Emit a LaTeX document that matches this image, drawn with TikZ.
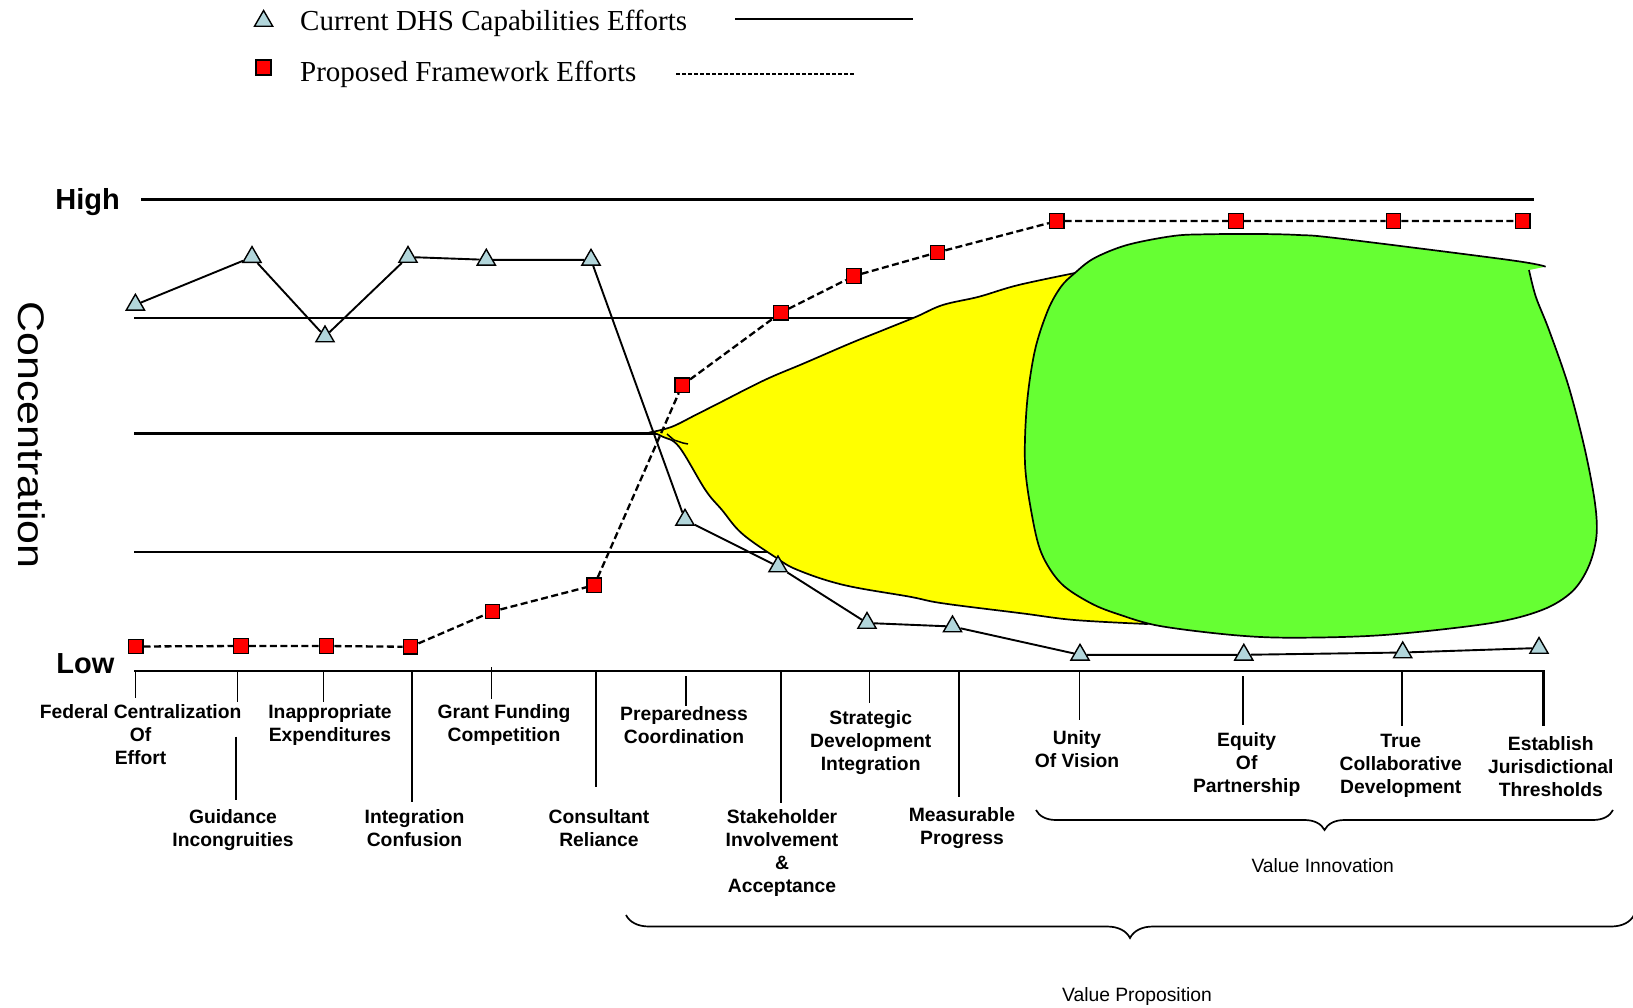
\documentclass[tikz,border=0pt]{standalone}
\usepackage{graphicx}
\usepackage{fontspec}
\setmainfont{Liberation Serif}
\newfontfamily\arialfont{Liberation Sans}
\usetikzlibrary{shapes.geometric,decorations.pathreplacing}
\definecolor{capblue}{RGB}{178,214,219}
\definecolor{propred}{RGB}{255,0,0}
\definecolor{innogreen}{RGB}{102,255,51}
\definecolor{propyellow}{RGB}{255,255,0}
\begin{document}
\begin{tikzpicture}[x=1pt,y=-1pt,
    tri/.style={regular polygon,regular polygon sides=3,draw,fill=capblue,minimum size=21pt,inner sep=0pt,line width=1.4pt},
    sq/.style={rectangle,draw,fill=propred,minimum size=14.5pt,inner sep=0pt,line width=1.3pt},
    level/.style={line width=2.2pt},
    tick/.style={line width=1.7pt},
    curr/.style={line width=1.9pt},
    prop/.style={line width=2.3pt,dash pattern=on 7pt off 3.5pt},
    lbl/.style={font=\arialfont\bfseries\fontsize{19.3}{23}\selectfont,align=center,inner sep=0pt,anchor=north},
    vlbl/.style={font=\arialfont\fontsize{19.3}{23}\selectfont,inner sep=0pt,anchor=base},
    bracket/.style={decorate,decoration={brace,mirror,amplitude=#1},line width=1.7pt}]
\useasboundingbox (0,0) rectangle (1633,1007);

% legend
\node[tri] (legc) at (263.6,21) {};
\node[sq,minimum size=15pt] (legp) at (263.6,67.5) {};
\node[anchor=base west,inner sep=0pt,font=\fontsize{29}{29}\selectfont] (legctext) at (300,30) {Current DHS Capabilities Efforts};
\node[anchor=base west,inner sep=0pt,font=\fontsize{29}{29}\selectfont] (legptext) at (300,81.7) {Proposed Framework Efforts};
\draw[curr] (735,19.3) -- (913,19.3);
\draw[prop,dash pattern=on 4pt off 2pt] (676,74) -- (854,74);

% axis text
\node[font=\arialfont\fontsize{37}{37}\selectfont,rotate=-90,inner sep=0pt] (conc) at (31.7,435) {\scalebox{1.16}[1]{Concentration}};
\node[font=\arialfont\bfseries\fontsize{29}{29}\selectfont,anchor=base east,inner sep=0pt] (high) at (120,209.3) {High};
\node[font=\arialfont\bfseries\fontsize{29}{29}\selectfont,anchor=base east,inner sep=0pt] (low) at (114.6,673.3) {Low};

% levels
\draw[level] (141,199.5) -- (1534,199.5);
\draw[level] (134,317.7) -- (1000,317.7);
\draw[level] (134,433.5) -- (660,433.5);
\draw[level] (134,552) -- (900,552);
\draw[level] (134,670.7) -- (1543.5,670.7) -- (1543.5,726);

% ticks
\foreach \x/\ya/\yb in {135.4/670.7/698.3, 237.5/670.7/701.7, 236/736.7/800, 323.5/670.7/701.7,
    411.7/670.7/802, 491.6/667/699, 595.8/670.7/786.7, 686.3/676/705.7, 780.7/670.7/803,
    869.6/670.7/703, 958.9/670.7/797, 1079.5/670.7/720, 1243/676/725, 1402/670.7/726}
  \draw[tick] (\x,\ya) -- (\x,\yb);

% yellow area
\filldraw[fill=propyellow,line width=1.7pt]
  plot[smooth,tension=.6] coordinates {(652,432) (672,426.7) (695.5,415) (718.6,403.3) (764.7,380)
    (804,363.3) (850.4,343.3) (883.4,330) (916.3,316.7) (942.7,305) (979,296.7) (1018.5,285) (1080,272)}
  -- (1110,320) -- (1110,600) -- (1170,615)
  -- plot[smooth,tension=.6] coordinates {(1147,624) (1074.5,620) (1021.8,613.3) (942.7,603.3)
    (909.7,596.7) (843.8,585) (797.7,570) (774.6,556.7) (741.7,533.3) (722,510) (705.4,490)
    (679,446.7) (662.6,436.7) (652,432)} -- cycle;
\draw[line width=1.5pt] (667,434) -- (674,440) -- (683,443) -- (688,444);

% green area
\fill[innogreen] plot[smooth,tension=.55] coordinates {(1529,270) (1535.8,296.7) (1549,330)
    (1568.7,386.7) (1585,450) (1595,503.3) (1596.4,536.7) (1588.5,566.7) (1572,591.7) (1542,610)
    (1489.6,623.3) (1384,635) (1292,637.7) (1232.6,635) (1160,626) (1120.6,615) (1091,603.3)
    (1061,583.3) (1041.5,553.3) (1031.6,513.3) (1025,463.3) (1027,403.3) (1035,350) (1048,310)
    (1061,286.7) (1074.5,273.3) (1094,258.3) (1127,245) (1173,236) (1206,234.3) (1259,234)
    (1298.5,235) (1338,238.3) (1509.4,260) (1545.6,266.7)} -- cycle;
\draw[line width=1.7pt] plot[smooth,tension=.55] coordinates {(1529,270) (1535.8,296.7) (1549,330)
    (1568.7,386.7) (1585,450) (1595,503.3) (1596.4,536.7) (1588.5,566.7) (1572,591.7) (1542,610)
    (1489.6,623.3) (1384,635) (1292,637.7) (1232.6,635) (1160,626) (1120.6,615) (1091,603.3)
    (1061,583.3) (1041.5,553.3) (1031.6,513.3) (1025,463.3) (1027,403.3) (1035,350) (1048,310)
    (1061,286.7) (1074.5,273.3) (1094,258.3) (1127,245) (1173,236) (1206,234.3) (1259,234)
    (1298.5,235) (1338,238.3) (1509.4,260) (1545.6,266.7)};

% current efforts
\foreach \n/\x/\y in {c1/135.4/304.8, c2/252/257.1, c3/325/336.5, c4/408/257, c5/486.3/259.8,
    c6/591/259.8, c7/685/519.8, c8/778/566.5, c9/867/623, c10/952.5/626.5, c11/1080/654.8,
    c12/1243.8/654.8, c13/1402.7/652.5, c14/1539/648}
  \node[tri] (\n) at (\x,\y) {};
\draw[curr] (c1) -- (c2) -- (c3) -- (c4) -- (c5) -- (c6) -- (c7) -- (c8) -- (c9) -- (c10)
  -- (c11) -- (c12) -- (c13) -- (c14);

% proposed efforts
\foreach \n/\x/\y in {p1/135.6/646.5, p2/241/646, p3/326.5/646, p4/410.5/646.8, p5/492.5/611.5,
    p6/594.3/585.2, p7/682.2/385.2, p8/781/312.6, p9/853.8/276, p10/937.4/252.4, p11/1056.8/221,
    p12/1236/221, p13/1393.5/221, p14/1522.7/221}
  \node[sq] (\n) at (\x,\y) {};
\draw[prop] (p1) -- (p2) -- (p3) -- (p4) -- (p5) -- (p6) -- (p7) -- (p8) -- (p9) -- (p10)
  -- (p11) -- (p12) -- (p13) -- (p14);

% category labels
\node[lbl] (l1) at (140.6,704.4) {Federal Centralization\\Of\\Effort};
\node[lbl] (l2) at (233,809.5) {Guidance\\Incongruities};
\node[lbl] (l3) at (330,704.4) {Inappropriate\\Expenditures};
\node[lbl] (l4) at (414.5,809.5) {Integration\\Confusion};
\node[lbl] (l5) at (504,704.4) {Grant Funding\\Competition};
\node[lbl] (l6) at (599,809.5) {Consultant\\Reliance};
\node[lbl] (l7) at (684,706.4) {Preparedness\\Coordination};
\node[lbl] (l8) at (782,809.5) {Stakeholder\\Involvement\\\&\\Acceptance};
\node[lbl] (l9) at (870.7,710.6) {Strategic\\Development\\Integration};
\node[lbl] (l10) at (962,807.5) {Measurable\\Progress};
\node[lbl] (l11) at (1077,730.4) {Unity\\Of Vision};
\node[lbl] (l12) at (1246.7,732.5) {Equity\\Of\\Partnership};
\node[lbl] (l13) at (1400.8,734.5) {True\\Collaborative\\Development};
\node[lbl] (l14) at (1550.8,736.6) {Establish\\Jurisdictional\\Thresholds};

% braces
\draw[bracket=20pt] (1036,810) -- (1613,810);
\node[vlbl] (vinno) at (1322.7,872.5) {Value Innovation};
\draw[bracket=23pt] (626,915) -- (1634,915);
\node[vlbl] (vprop) at (1137,1001.5) {Value Proposition};
\end{tikzpicture}
\end{document}
